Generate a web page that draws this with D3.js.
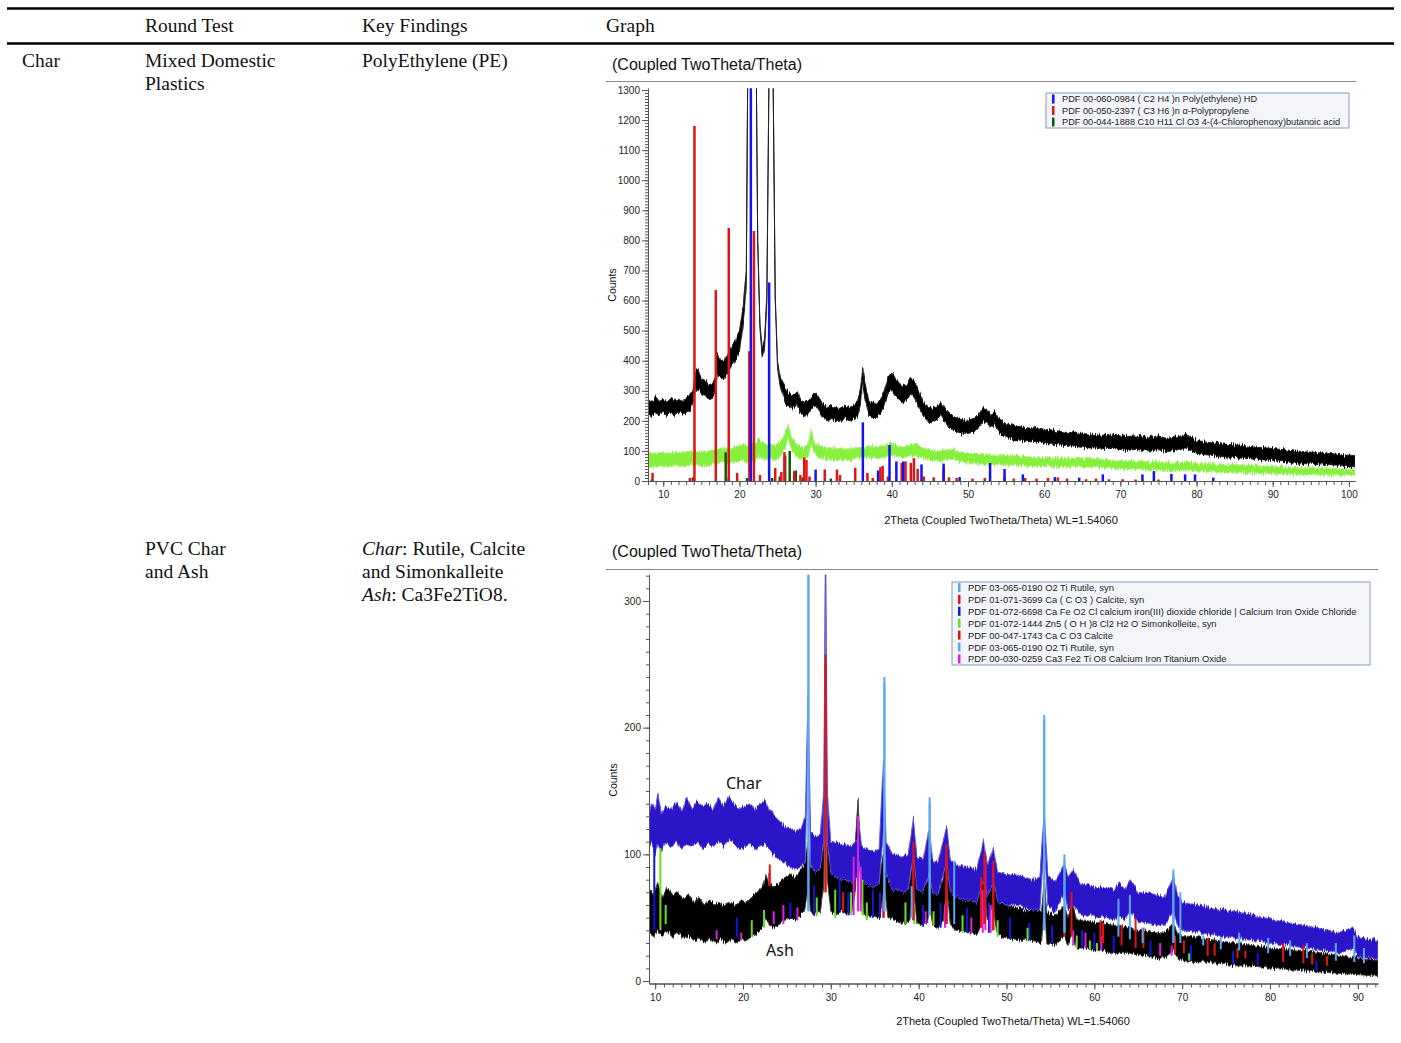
<!DOCTYPE html>
<html>
<head>
<meta charset="utf-8">
<script src="https://cdn.jsdelivr.net/npm/d3@7"></script>
<style>
  body { margin: 0; background: #fff; }
  svg { display: block; }
</style>
</head>
<body>
<script>
// ---------- table text ----------
const headCols = ["Round Test", "Key Findings", "Graph"];
const rowOneTest = ["Mixed Domestic", "Plastics"];
const rowOneFinding = "PolyEthylene (PE)";
const rowTwoTest = ["PVC Char", "and Ash"];
const chartTitle = "(Coupled TwoTheta/Theta)";
const xTitle = "2Theta (Coupled TwoTheta/Theta) WL=1.54060";

// ---------- top chart: mixed domestic plastics char ----------
// scans as [2theta, low edge, high edge] of the noisy trace (counts)
const mixedScanBlack = [
  [8.0,225,270],[8.5,215,262],[9.0,230,280],[9.5,222,265],[10.0,228,272],[10.5,218,262],
  [11.0,225,275],[11.5,220,268],[12.0,230,272],[12.5,222,265],[13.0,228,278],[13.5,235,285],
  [13.9,260,300],[14.2,300,360],[14.5,310,375],[15.0,290,340],[15.5,285,335],[16.0,270,320],
  [16.5,275,325],[16.9,300,350],[17.1,350,420],[17.5,345,405],[18.0,340,400],[18.5,360,425],
  [19.0,385,450],[19.5,400,465],[20.0,430,500],[20.5,520,580],[20.9,650,700],[21.1,1400,1400],
  [22.2,1400,1400],[22.4,800,800],[22.7,500,520],[23.0,410,440],[23.3,440,470],[23.6,600,620],
  [23.9,1400,1400],[24.4,1400,1400],[24.7,600,620],[25.0,380,400],[25.3,320,350],[25.7,290,330],
  [26.0,260,310],[26.5,245,290],[27.0,240,285],[27.6,255,300],[28.0,225,270],[28.5,215,262],
  [29.0,220,265],[29.5,240,280],[30.0,250,295],[30.5,230,275],[31.0,210,255],[31.5,200,248],
  [32.0,205,250],[32.5,200,245],[33.0,198,242],[33.5,200,250],[34.0,205,248],[34.5,200,245],
  [35.0,205,252],[35.5,215,265],[35.9,260,310],[36.2,330,378],[36.5,270,320],[37.0,215,265],
  [37.5,210,258],[38.0,212,260],[38.5,220,270],[39.0,250,300],[39.5,290,345],[40.0,300,362],
  [40.5,285,340],[41.0,270,325],[41.5,260,315],[42.0,270,320],[42.5,290,345],[43.0,275,330],
  [43.5,250,300],[44.0,225,270],[44.5,205,250],[45.0,190,240],[46.0,205,250],[46.5,215,262],
  [47.0,195,240],[47.5,180,225],[48.0,168,215],[49.0,160,205],[50.0,158,202],[51.0,165,210],
  [51.5,180,225],[52.0,200,245],[52.5,192,238],[53.0,178,222],[53.5,188,230],[54.0,165,210],
  [55.0,145,190],[56.0,138,185],[57.0,135,180],[58.0,130,176],[59.0,132,178],[60.0,125,172],
  [61.0,122,170],[62.0,120,165],[63.0,118,162],[64.0,115,160],[65.0,112,158],[66.0,110,156],
  [67.0,110,154],[68.0,108,152],[69.0,108,152],[70.0,105,150],[71.0,102,148],[72.0,105,150],
  [73.0,102,147],[74.0,100,145],[75.0,104,150],[76.0,98,142],[77.0,100,145],[78.0,108,150],
  [78.5,110,155],[79.0,104,148],[80.0,92,136],[81.0,88,130],[82.0,85,127],[83.0,82,124],
  [84.0,80,122],[85.0,78,120],[86.0,76,118],[87.0,74,115],[88.0,72,112],[89.0,70,110],
  [90.0,68,108],[91.0,66,105],[92.0,63,102],[93.0,60,100],[94.0,58,98],[95.0,56,96],
  [96.0,54,94],[97.0,52,92],[98.0,50,90],[99.0,49,88],[100.0,48,86],[100.8,47,85]
];
const mixedScanGreen = [
  [8.0,50,95],[9.0,48,92],[10.0,50,95],[11.0,48,92],[12.0,50,95],[13.0,52,98],[14.0,55,100],
  [15.0,52,98],[16.0,55,100],[17.0,58,105],[18.0,62,110],[19.0,60,108],[20.0,65,115],
  [20.5,68,122],[21.0,62,115],[21.5,75,125],[22.0,68,120],[22.5,82,140],[23.0,78,130],
  [23.5,72,122],[24.0,75,125],[24.5,70,120],[25.0,72,122],[25.5,85,140],[26.0,110,160],
  [26.4,145,188],[26.8,110,150],[27.3,85,125],[28.0,75,115],[28.5,72,112],[29.0,80,120],
  [29.4,125,172],[29.8,95,130],[30.3,80,120],[31.0,75,112],[32.0,72,110],[33.0,70,108],
  [34.0,70,106],[35.0,72,108],[36.0,75,112],[37.0,78,115],[38.0,76,112],[39.0,80,118],
  [39.8,88,125],[40.5,82,118],[41.5,78,112],[42.5,82,120],[43.2,85,125],[44.0,75,110],
  [45.0,71,104],[46.0,68,100],[47.0,70,102],[48.0,72,106],[49.0,64,96],[50.0,60,93],
  [52.0,57,90],[54.0,55,86],[56.0,52,83],[58.0,50,80],[60.0,50,78],[62.0,48,77],[64.0,48,76],
  [66.0,45,73],[68.0,42,70],[70.0,40,68],[72.0,38,66],[74.0,37,64],[76.0,35,63],[78.0,34,61],
  [80.0,33,60],[82.0,31,57],[84.0,29,55],[86.0,27,53],[88.0,26,51],[90.0,24,49],[92.0,23,46],
  [94.0,22,44],[96.0,21,41],[98.0,20,39],[100.0,20,38],[100.8,20,37]
];
// reference patterns [2theta, counts]
const peSticks = [
  [21.5,1400],[23.9,660],[30.0,38],[36.2,195],[38.2,35],[39.7,120],[40.6,65],[41.5,65],
  [43.9,55],[46.8,58],[48.9,13],[52.9,60],[54.8,40],[57.2,22],[61.4,13],[64.6,11],[67.7,22],
  [72.9,22],[74.4,33],[76.7,24],[78.5,22],[79.8,22],[82.2,11]
];
const ppSticks = [
  [8.6,27],[13.5,10],[14.1,1180],[16.9,635],[18.6,841],[19.7,27],[21.3,432],[21.9,831],
  [22.7,20],[24.7,43],[25.5,30],[25.9,96],[27.2,33],[28.0,20],[28.5,78],[28.8,70],[29.2,15],
  [31.2,38],[32.8,38],[33.2,20],[35.2,44],[36.8,27],[37.5,10],[38.5,46],[38.8,50],[39.5,15],
  [41.3,60],[41.8,65],[42.5,60],[42.9,76],[43.4,40],[44.2,15],[45.5,12],[46.8,41],[47.5,12],
  [48.5,10],[50.6,8],[52.2,10],[54.8,14],[56.0,8],[57.5,10],[59.0,8],[60.5,10],[61.8,12],
  [63.0,8],[65.5,6],[66.8,8],[68.5,6],[70.3,6],[72.0,5],[75.0,5]
];
const cpbaSticks = [
  [8.5,5],[13.9,12],[18.2,95],[18.6,12],[21.0,10],[24.3,10],[25.3,15],[26.0,85],[26.6,100],
  [27.4,35],[28.3,12],[32.0,8]
];
const topLegend = [
  "PDF 00-060-0984 ( C2 H4 )n Poly(ethylene) HD",
  "PDF 00-050-2397 ( C3 H6 )n \u03b1-Polypropylene",
  "PDF 00-044-1888 C10 H11 Cl O3 4-(4-Chlorophenoxy)butanoic acid"
];
const topYTicks = [0,100,200,300,400,500,600,700,800,900,1000,1100,1200,1300];
const topXTicks = [10,20,30,40,50,60,70,80,90,100];

// ---------- bottom chart: PVC char and ash ----------
const pvcCharScan = [
  [9.3,105,130],[9.6,110,140],[10.0,100,135],[10.3,108,148],[10.7,102,132],[11.2,110,138],
  [11.8,105,135],[12.4,110,142],[13.0,104,134],[13.6,108,145],[14.2,106,136],[14.8,110,142],
  [15.4,104,138],[16.0,108,140],[16.6,106,135],[17.2,110,145],[17.8,106,138],[18.4,112,146],
  [19.0,108,140],[19.6,104,136],[20.2,106,138],[20.8,108,140],[21.4,104,136],[22.0,106,140],
  [22.5,108,143],[23.0,104,136],[23.6,99,130],[24.2,96,126],[24.8,93,122],[25.4,90,120],
  [26.0,88,118],[26.6,90,120],[27.1,95,130],[27.4,200,225],[27.7,92,118],[28.2,86,114],
  [28.8,88,116],[29.2,110,150],[29.4,340,340],[29.6,110,150],[30.0,85,110],[30.6,82,110],
  [31.2,80,108],[31.8,80,108],[32.4,78,106],[33.0,82,112],[33.2,95,125],[33.5,80,106],
  [34.2,76,104],[34.8,75,102],[35.5,76,104],[36.0,120,175],[36.3,85,110],[37.0,72,100],
  [37.6,72,100],[38.2,70,98],[38.8,72,100],[39.4,100,128],[39.8,72,98],[40.5,70,96],
  [41.2,85,120],[41.6,70,95],[42.2,68,94],[43.2,95,122],[43.6,70,96],[44.3,66,92],
  [45.0,64,90],[45.8,64,90],[46.6,62,88],[47.4,80,110],[47.8,66,92],[48.5,78,105],
  [49.0,62,86],[50.0,60,84],[51.0,60,84],[52.0,58,82],[53.0,56,80],[53.8,56,82],
  [54.3,110,135],[54.7,60,84],[55.5,54,78],[56.6,70,92],[57.0,56,82],[57.6,60,88],
  [58.5,52,76],[59.5,52,76],[60.5,50,74],[61.5,50,74],[62.3,48,72],[62.8,52,78],[63.5,48,72],
  [64.1,55,80],[65.0,46,70],[66.0,46,70],[67.0,44,68],[68.0,44,66],[69.0,55,82],[69.5,44,68],
  [70.0,40,62],[72.0,38,60],[74.0,36,57],[76.0,34,55],[78.0,32,52],[80.0,30,49],[82.0,28,46],
  [84.0,26,44],[86.0,24,41],[88.0,22,38],[89.5,26,42],[90.0,19,35],[92.3,17,32]
];
const pvcAshScan = [
  [9.3,38,72],[9.8,35,68],[10.3,40,78],[10.8,36,66],[11.4,40,74],[12.0,35,68],[12.6,38,70],
  [13.2,34,64],[13.8,36,68],[14.4,32,62],[15.0,34,66],[15.6,30,60],[16.2,34,64],[16.8,30,60],
  [17.4,33,62],[18.0,30,60],[18.6,32,62],[19.2,30,60],[19.8,33,64],[20.4,32,62],[21.0,35,66],
  [21.6,38,70],[22.2,42,74],[22.6,50,84],[23.0,44,76],[23.6,42,74],[24.2,45,78],[24.8,48,82],
  [25.4,50,85],[26.0,48,82],[26.6,52,88],[27.0,55,92],[27.4,70,110],[27.7,55,90],[28.2,52,88],
  [28.8,55,92],[29.2,75,120],[29.4,240,250],[29.6,80,120],[30.0,55,90],[30.6,52,88],
  [31.2,55,90],[31.8,52,88],[32.4,55,92],[32.8,70,110],[33.1,130,144],[33.4,70,100],
  [33.8,52,86],[34.4,50,84],[35.0,52,86],[35.6,50,84],[36.1,75,105],[36.5,50,82],[37.2,48,80],
  [37.8,46,78],[38.4,45,78],[39.0,48,80],[39.4,75,110],[39.8,46,78],[40.4,44,76],[41.0,46,78],
  [41.3,60,95],[41.6,44,74],[42.2,42,72],[42.8,48,80],[43.2,75,110],[43.6,45,76],[44.2,40,70],
  [44.8,40,68],[45.4,38,66],[46.0,38,66],[46.6,36,64],[47.2,45,78],[47.5,70,100],[47.8,48,78],
  [48.5,60,95],[48.9,38,66],[49.5,35,62],[50.0,34,60],[51.0,33,58],[52.0,32,56],[53.0,32,56],
  [54.0,30,55],[54.3,60,80],[54.6,30,54],[55.5,28,52],[56.6,35,60],[57.0,28,50],[57.5,38,62],
  [58.0,26,48],[59.0,26,48],[60.0,24,46],[61.0,24,46],[62.0,22,44],[63.0,22,44],[64.0,22,42],
  [65.0,20,40],[66.0,20,40],[67.0,18,38],[68.0,18,38],[69.0,24,46],[69.5,18,38],[70.0,16,36],
  [72.0,15,34],[74.0,14,32],[76.0,12,30],[78.0,12,28],[80.0,10,26],[82.0,9,25],[84.0,8,24],
  [86.0,7,22],[88.0,6,20],[90.0,5,18],[92.3,4,16]
];
// reference patterns [2theta, foot, top] (sticks stand on the scan)
const rutileSticks = [
  [27.45,55,330],[36.1,55,240],[39.2,50,75],[41.25,52,145],[44.05,45,95],[54.3,40,210],
  [56.6,38,100],[62.75,35,65],[64.05,33,68],[65.5,30,42],[69.0,30,88],[69.8,30,70],
  [72.4,28,36],[74.4,25,34],[76.5,24,38],[79.8,22,34],[82.3,20,32],[84.2,18,30],[87.5,16,30],
  [89.6,15,36],[90.7,14,26]
];
const calciteSticks = [
  [23.05,75,92],[29.4,70,258],[31.4,55,70],[36.0,50,68],[39.4,48,110],[43.15,45,108],
  [47.1,42,82],[47.5,45,102],[48.5,40,95],[56.6,35,56],[57.4,35,70],[60.7,30,48],[61.0,30,46],
  [63.1,28,44],[64.7,26,50],[65.6,26,42],[69.2,22,36],[70.2,22,32],[72.9,20,34],[73.7,20,30],
  [76.3,18,26],[77.2,18,24],[81.5,15,30],[83.8,14,28],[84.8,13,22],[86.5,12,20]
];
const cafeSticks = [
  [9.9,40,110],[19.3,35,50],[25.4,50,62],[28.1,52,75],[31.0,55,80],[32.0,52,70],[34.8,50,72],
  [35.6,50,70],[40.5,44,60],[42.5,42,62],[45.5,38,58],[48.0,38,62],[50.4,33,50],[52.6,32,46],
  [55.2,30,44],[58.6,26,40],[60.0,25,38],[62.2,23,36],[66.4,20,32],[71.0,16,28],[75.8,13,24],
  [78.6,12,22],[85.3,8,16]
];
const simonSticks = [
  [10.6,40,105],[11.2,45,60],[21.0,35,48],[22.4,42,56],[28.4,52,66],[30.5,50,72],[32.3,52,70],
  [33.6,52,80],[34.1,48,62],[38.5,45,62],[39.5,45,58],[41.7,44,55],[45.0,38,52],[49.0,35,48],
  [52.4,32,42],[58.0,26,36],[59.5,25,32],[60.3,24,30],[70.8,16,22]
];
const calcite2Sticks = [
  [23.0,75,85],[29.4,70,250],[36.0,50,62],[39.4,48,100],[43.2,45,100],[47.5,45,98],[48.5,40,90]
];
const rutile2Sticks = [
  [27.45,55,320],[36.1,55,235],[41.25,52,140],[54.3,40,205],[56.6,38,95],[69.0,30,85]
];
const cftoSticks = [
  [17.0,33,40],[19.8,32,38],[23.5,45,55],[24.6,45,60],[26.2,48,58],[32.6,52,98],[33.1,55,130],
  [33.4,55,90],[40.8,45,55],[43.0,42,60],[46.0,38,50],[47.3,38,72],[47.6,40,95],[48.2,38,60],
  [57.6,28,40],[59.0,26,38],[60.8,24,36],[67.5,20,30],[68.8,20,28]
];
const bottomLegend = [
  "PDF 03-065-0190 O2 Ti Rutile, syn",
  "PDF 01-071-3699 Ca ( C O3 ) Calcite, syn",
  "PDF 01-072-6698 Ca Fe O2 Cl calcium iron(III) dioxide chloride | Calcium Iron Oxide Chloride",
  "PDF 01-072-1444 Zn5 ( O H )8 Cl2 H2 O Simonkolleite, syn",
  "PDF 00-047-1743 Ca C O3 Calcite",
  "PDF 03-065-0190 O2 Ti Rutile, syn",
  "PDF 00-030-0259 Ca3 Fe2 Ti O8 Calcium Iron Titanium Oxide"
];
const bottomYTicks = [0,100,200,300];
const bottomXTicks = [10,20,30,40,50,60,70,80,90];

// ---------- page ----------
let width = 1401;
let height = 1043;
let svg = d3.select("body").append("svg").attr("width", width).attr("height", height);
let defs = svg.append("defs");

// grainy edge for the noisy scans: vertical jitter only
let grain = defs.append("filter").attr("id", "grain")
  .attr("x", "-1%").attr("y", "-5%").attr("width", "102%").attr("height", "110%");
grain.append("feTurbulence").attr("type", "fractalNoise")
  .attr("baseFrequency", "1.1 0.04").attr("numOctaves", 2).attr("seed", 4).attr("result", "noise");
grain.append("feColorMatrix").attr("in", "noise").attr("type", "matrix")
  .attr("values", "0 0 0 0 0.5  0 1 0 0 0  0 0 1 0 0  0 0 0 0 1").attr("result", "vnoise");
grain.append("feDisplacementMap").attr("in", "SourceGraphic").attr("in2", "vnoise")
  .attr("scale", 8).attr("xChannelSelector", "R").attr("yChannelSelector", "G");

const serif = "'Liberation Serif', 'Times New Roman', serif";
const sans = "'Liberation Sans', Arial, sans-serif";

// table rules and text
svg.append("line").attr("x1", 7).attr("x2", 1394).attr("y1", 8.5).attr("y2", 8.5)
  .attr("stroke", "#000").attr("stroke-width", 2.5);
svg.append("line").attr("x1", 7).attr("x2", 1394).attr("y1", 43.5).attr("y2", 43.5)
  .attr("stroke", "#000").attr("stroke-width", 2.5);

function cell(x, y, txt) {
  return svg.append("text").attr("x", x).attr("y", y)
    .style("font-family", serif).style("font-size", "19.5px").style("fill", "#111").text(txt);
}
cell(145, 32, headCols[0]);
cell(362, 32, headCols[1]);
cell(606, 32, headCols[2]);

cell(22, 67, "Char");
cell(145, 67, rowOneTest[0]);
cell(145, 90, rowOneTest[1]);
cell(362, 67, rowOneFinding);

cell(145, 555, rowTwoTest[0]);
cell(145, 578, rowTwoTest[1]);
let f1 = cell(362, 555, "");
f1.append("tspan").style("font-style", "italic").text("Char");
f1.append("tspan").text(": Rutile, Calcite");
cell(362, 578, "and Simonkalleite");
let f3 = cell(362, 601, "");
f3.append("tspan").style("font-style", "italic").text("Ash");
f3.append("tspan").text(": Ca3Fe2TiO8.");

// ---------- one diffractogram ----------
function xrdChart(o) {
  let x = d3.scaleLinear().domain(o.xDomain).range([o.left, o.right]);
  let k = (o.y0px - o.yRefPx) / o.yRef;
  let y = d3.scaleLinear().domain(o.yDomain)
    .range([o.y0px - o.yDomain[0] * k, o.y0px - o.yDomain[1] * k]);

  // title + rule
  svg.append("text").attr("x", o.titleX).attr("y", o.titleY)
    .style("font-family", sans).style("font-size", "16px").style("fill", "#111").text(chartTitle);
  svg.append("line").attr("x1", 606).attr("x2", o.ruleRight).attr("y1", o.ruleY).attr("y2", o.ruleY)
    .attr("stroke", "#8a8a8a").attr("stroke-width", 1);

  let clipId = o.id + "clip";
  defs.append("clipPath").attr("id", clipId).append("rect")
    .attr("x", o.left).attr("y", y.range()[1])
    .attr("width", o.right - o.left).attr("height", y.range()[0] - y.range()[1]);
  let plot = svg.append("g").attr("clip-path", "url(#" + clipId + ")");

  let band = d3.area().x(d => x(d[0])).y0(d => y(d[1])).y1(d => y(d[2]));
  o.scans.forEach(function(s) {
    plot.append("path").datum(s.data).attr("d", band)
      .attr("fill", s.color).attr("stroke", s.edge).attr("stroke-width", 1)
      .attr("filter", "url(#grain)");
  });

  o.sticks.forEach(function(s) {
    plot.append("g").selectAll("line").data(s.data).enter().append("line")
      .attr("x1", d => x(d[0])).attr("x2", d => x(d[0]))
      .attr("y1", d => d.length > 2 ? y(d[1]) : y(0))
      .attr("y2", d => y(d[d.length - 1]))
      .attr("stroke", s.color).attr("stroke-width", o.stickWidth);
  });

  // axes
  let yMinor = d3.range(o.yMinor[0], o.yMinor[1] + 1, o.yMinor[2]);
  let xMinor = d3.range(Math.ceil(o.xDomain[0]), Math.floor(o.xDomain[1]) + 1, 1);
  let axes = svg.append("g").style("font-family", sans).style("font-size", o.tickFont + "px");

  let ya = axes.append("g").attr("transform", "translate(" + o.left + ",0)");
  ya.call(d3.axisLeft(y).tickValues(yMinor).tickSize(3).tickSizeOuter(0).tickFormat(""));
  ya.append("g").call(d3.axisLeft(y).tickValues(o.yTicks).tickSize(6).tickSizeOuter(0)
    .tickPadding(2).tickFormat(d3.format("d")));

  let xa = axes.append("g").attr("transform", "translate(0," + o.axisY + ")");
  xa.call(d3.axisBottom(x).tickValues(xMinor).tickSize(4).tickSizeOuter(0).tickFormat(""));
  xa.append("g").call(d3.axisBottom(x).tickValues(o.xTicks).tickSize(6).tickSizeOuter(0)
    .tickPadding(4).tickFormat(d3.format("d")));

  axes.selectAll(".domain").attr("stroke", "#555");
  axes.selectAll(".tick line").attr("stroke", "#555");
  axes.selectAll(".tick text").attr("fill", "#222");

  svg.append("text")
    .attr("transform", "translate(" + o.countsX + "," + o.countsY + ") rotate(-90)")
    .attr("text-anchor", "middle").attr("dominant-baseline", "central")
    .style("font-family", sans).style("font-size", "10.5px").style("fill", "#111").text("Counts");
  svg.append("text").attr("x", o.xTitleX).attr("y", o.xTitleY).attr("text-anchor", "middle")
    .style("font-family", sans).style("font-size", "11px").style("fill", "#111").text(xTitle);

  // legend box
  let lg = svg.append("g");
  lg.append("rect").attr("x", o.legend.x).attr("y", o.legend.y)
    .attr("width", o.legend.w).attr("height", o.legend.h)
    .attr("fill", "#f3f5fa").attr("stroke", "#8a9bc0").attr("stroke-width", 1);
  o.legend.rows.forEach(function(r, i) {
    let cy = o.legend.y + o.legend.first + i * o.legend.gap;
    lg.append("rect").attr("x", o.legend.x + 6).attr("y", cy - 4.5)
      .attr("width", 2.5).attr("height", 9).attr("fill", r.color);
    lg.append("text").attr("x", o.legend.x + 16).attr("y", cy).attr("dominant-baseline", "central")
      .style("font-family", sans).style("font-size", o.legend.font + "px").style("fill", "#222").text(r.label);
  });

  return { x: x, y: y };
}

// top chart
xrdChart({
  id: "top",
  xDomain: [8, 100.8], left: 648, right: 1355,
  yDomain: [0, 1306], y0px: 481, yRef: 1300, yRefPx: 90,
  axisY: 481, yTicks: topYTicks, yMinor: [0, 1300, 10], xTicks: topXTicks,
  tickFont: 8, stickWidth: 2.5,
  titleX: 612, titleY: 70, ruleY: 81.5, ruleRight: 1356,
  countsX: 612, countsY: 285, xTitleX: 1001, xTitleY: 524,
  scans: [
    { data: mixedScanBlack, color: "#000", edge: "#222" },
    { data: mixedScanGreen, color: "#86f03c", edge: "#9ef566" }
  ],
  sticks: [
    { data: cpbaSticks, color: "#0b5a0b" },
    { data: ppSticks, color: "#e01414" },
    { data: peSticks, color: "#1414f0" }
  ],
  legend: {
    x: 1046, y: 93, w: 303, h: 35, first: 6, gap: 11.5, font: 9.2,
    rows: [
      { color: "#1414f0", label: topLegend[0] },
      { color: "#e01414", label: topLegend[1] },
      { color: "#0b5a0b", label: topLegend[2] }
    ]
  }
});

// bottom chart
xrdChart({
  id: "bottom",
  xDomain: [9.3, 92.3], left: 649, right: 1378,
  yDomain: [-2, 321], y0px: 981, yRef: 300, yRefPx: 601,
  axisY: 983.5, yTicks: bottomYTicks, yMinor: [0, 320, 10], xTicks: bottomXTicks,
  tickFont: 9, stickWidth: 2,
  titleX: 612, titleY: 557, ruleY: 569.5, ruleRight: 1378,
  countsX: 613, countsY: 780, xTitleX: 1013, xTitleY: 1025,
  scans: [
    { data: pvcAshScan, color: "#000", edge: "#444" },
    { data: pvcCharScan, color: "#2c16c8", edge: "#6656dc" }
  ],
  sticks: [
    { data: cafeSticks, color: "#1515e0" },
    { data: simonSticks, color: "#66e020" },
    { data: cftoSticks, color: "#e020e0" },
    { data: calcite2Sticks, color: "#d81010" },
    { data: calciteSticks, color: "#e01414" },
    { data: rutile2Sticks, color: "#5aa8f5" },
    { data: rutileSticks, color: "#5aa8f5" }
  ],
  legend: {
    x: 952, y: 582, w: 418, h: 83, first: 5.5, gap: 11.9, font: 9.4,
    rows: [
      { color: "#5aa8f5", label: bottomLegend[0] },
      { color: "#e01414", label: bottomLegend[1] },
      { color: "#1515e0", label: bottomLegend[2] },
      { color: "#66e020", label: bottomLegend[3] },
      { color: "#d81010", label: bottomLegend[4] },
      { color: "#5aa8f5", label: bottomLegend[5] },
      { color: "#e020e0", label: bottomLegend[6] }
    ]
  }
});

// scan labels inside the lower plot
svg.append("text").attr("x", 726).attr("y", 789)
  .style("font-family", "'Noto Sans', 'Open Sans', sans-serif").style("font-size", "16px")
  .style("fill", "#111").text("Char");
svg.append("text").attr("x", 766).attr("y", 956)
  .style("font-family", "'Noto Sans', 'Open Sans', sans-serif").style("font-size", "16px")
  .style("fill", "#111").text("Ash");
</script>
</body>
</html>
